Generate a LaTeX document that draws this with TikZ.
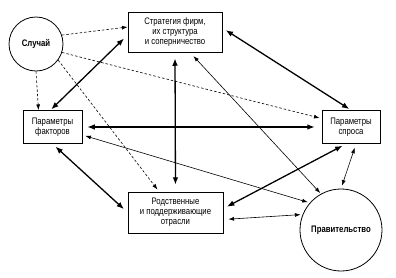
\documentclass[tikz,border=0pt]{standalone}
\usepackage{fontspec}
\setmainfont{Liberation Sans}[FakeStretch=0.82]
\usetikzlibrary{arrows.meta, positioning, calc}

\begin{document}
\begin{tikzpicture}[
    x=1bp, y=-1bp,
    >=Latex,
    every node/.style={font=\fontsize{9.5}{10}\selectfont, align=center, inner sep=1pt},
    box/.style={draw, line width=0.8pt},
    agent/.style={draw, circle, line width=0.8pt, font=\fontsize{9.5}{10}\selectfont\bfseries},
    strong/.style={line width=1.3pt, {Latex[length=2.6mm,width=2mm]}-{Latex[length=2.6mm,width=2mm]}},
    weak/.style={line width=0.6pt, {Latex[length=2mm,width=1.4mm]}-{Latex[length=2mm,width=1.4mm]}},
    chancelink/.style={line width=0.6pt, dash pattern=on 2.5pt off 2pt, -{Latex[length=2mm,width=1.4mm]}}
]
\useasboundingbox (0,0) rectangle (396,278);

% Nodes
\node[agent, minimum size=54bp] (chance) at (36,44) {Случай};
\node[box, minimum width=94bp, minimum height=40bp] (strategy) at (175,32)
    {Стратегия фирм,\\их структура\\и соперничество};
\node[box, minimum width=59bp, minimum height=33bp] (factors) at (52.5,127)
    {Параметры\\факторов};
\node[box, minimum width=58bp, minimum height=33bp] (demand) at (351,127)
    {Параметры\\спроса};
\node[box, minimum width=95bp, minimum height=41bp] (related) at (175.5,212.5)
    {Родственные\\и поддерживающие\\отрасли};
\node[agent, minimum size=82bp] (gov) at (341,230) {Правительство};

% Chance, dashed
\draw[chancelink] (chance.19) -- ([yshift=5bp]strategy.west);
\draw[chancelink] (chance.south) -- ([xshift=-14bp]factors.north);
\draw[chancelink] (chance.-18) -- ([yshift=9bp, xshift=-2bp]demand.west);
\draw[chancelink] (chance.-36) -- ([xshift=-18bp, yshift=2bp]related.north);

% The diamond
\draw[strong, shorten <=5pt, shorten >=1pt] ([yshift=-3bp]strategy.west) -- ([xshift=-2bp]factors.north);
\draw[strong, shorten <=4pt, shorten >=2pt] ([yshift=4bp]strategy.east) -- (demand.north);
\draw[strong, shorten <=6pt, shorten >=7pt] (strategy.south) -- (related.north);
\draw[strong, shorten <=5pt, shorten >=7pt] (factors.east) -- (demand.west);
\draw[strong, shorten <=4pt, shorten >=4pt] ([xshift=-5bp]demand.south) -- ([yshift=4bp]related.east);
\draw[strong, shorten <=4pt, shorten >=5pt] (factors.south) -- (related.west);

% Government
\draw[weak, shorten <=5pt, shorten >=1pt] ([xshift=15bp]strategy.south) -- (gov.119);
\draw[weak, shorten <=3pt, shorten >=2pt] ([yshift=-8bp]factors.east) -- (gov.139);
\draw[weak, shorten <=4pt, shorten >=3pt] ([xshift=5bp]demand.south) -- (gov.north);
\draw[weak, shorten <=5pt, shorten >=2pt] ([yshift=-7bp]related.east) -- (gov.158);

\end{tikzpicture}
\end{document}
